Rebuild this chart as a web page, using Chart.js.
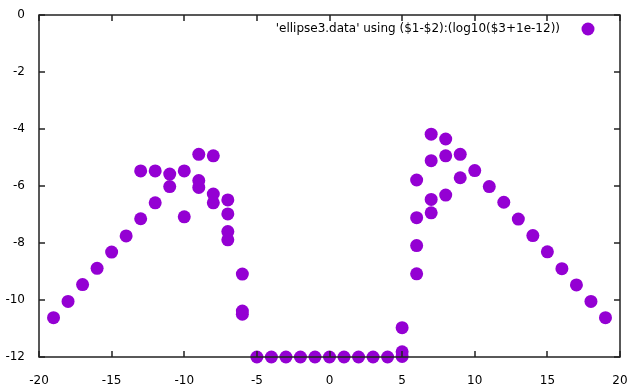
<!DOCTYPE html>
<html>
<head>
<meta charset="utf-8">
<script src="https://cdn.jsdelivr.net/npm/chart.js@4"></script>
<style>
html, body { margin: 0; padding: 0; background: #fff; }
</style>
</head>
<body>
<canvas id="plot" width="640" height="388"></canvas>
<script>
// values
const xValues = [
    -19, -18, -17, -16, -15, -14, -13, -13, -12, -12, -11, -11, -10, -10,
    -9, -9, -9, -8, -8, -8, -7, -7, -7, -7, -6, -6, -6,
    -5, -4, -3, -2, -1, 0, 1, 2, 3, 4,
    5, 5, 5,
    6, 6, 6, 6, 7, 7, 7, 7, 8, 8, 8, 9, 9,
    10, 11, 12, 13, 14, 15, 16, 17, 18, 19
];
const yValues = [
    -10.62, -10.05, -9.46, -8.89, -8.32, -7.75, -7.15, -5.47, -6.59, -5.47, -6.02, -5.58, -7.08, -5.47,
    -4.89, -5.81, -6.05, -4.94, -6.28, -6.59, -6.49, -6.98, -7.60, -7.89, -9.09, -10.39, -10.50,
    -12, -12, -12, -12, -12, -12, -12, -12, -12, -12,
    -10.97, -11.82, -11.98,
    -5.79, -7.11, -8.09, -9.08, -4.18, -5.11, -6.47, -6.94, -4.35, -4.94, -6.32, -4.89, -5.71,
    -5.46, -6.02, -6.57, -7.16, -7.74, -8.31, -8.90, -9.47, -10.05, -10.62
];
const xTicks = [-20, -15, -10, -5, 0, 5, 10, 15, 20];
const yTicks = [0, -2, -4, -6, -8, -10, -12];
const seriesLabel = "'ellipse3.data' using ($1-$2):(log10($3+1e-12))";

const dotColor = '#9400d3';
const fontFamily = '"DejaVu Sans", sans-serif';

// gnuplot style border with inward ticks on all four sides
const framePlugin = {
    id: 'frame',
    afterDatasetsDraw(chart) {
        const { ctx, chartArea: a, scales: { x, y } } = chart;
        const len = 6;
        ctx.save();
        ctx.strokeStyle = '#222';
        ctx.lineWidth = 1.5;
        ctx.beginPath();
        xTicks.forEach(v => {
            const px = Math.round(x.getPixelForValue(v));
            ctx.moveTo(px, a.bottom); ctx.lineTo(px, a.bottom - len);
            ctx.moveTo(px, a.top); ctx.lineTo(px, a.top + len);
        });
        yTicks.forEach(v => {
            const py = Math.round(y.getPixelForValue(v));
            ctx.moveTo(a.left, py); ctx.lineTo(a.left + len, py);
            ctx.moveTo(a.right, py); ctx.lineTo(a.right - len, py);
        });
        ctx.stroke();
        ctx.strokeRect(Math.round(a.left), Math.round(a.top),
            Math.round(a.right - a.left), Math.round(a.bottom - a.top));

        // key in the top right corner
        const ky = a.top + 14;
        ctx.fillStyle = '#000';
        ctx.font = '12px ' + fontFamily;
        ctx.textAlign = 'right';
        ctx.textBaseline = 'middle';
        ctx.fillText(seriesLabel, a.right - 60, ky);
        ctx.fillStyle = dotColor;
        ctx.beginPath();
        ctx.arc(a.right - 32, ky, 6.5, 0, Math.PI * 2);
        ctx.fill();
        ctx.restore();
    }
};

const chart = new Chart(document.getElementById('plot').getContext('2d'), {
    type: 'scatter',
    data: {
        datasets: [{
            label: seriesLabel,
            data: xValues.map((v, i) => ({ x: v, y: yValues[i] })),
            backgroundColor: dotColor,
            borderWidth: 0,
            pointRadius: 6.5,
            pointHoverRadius: 6.5,
            clip: false
        }]
    },
    options: {
        responsive: false,
        animation: false,
        devicePixelRatio: 1,
        events: [],
        layout: { padding: { top: 15, right: 20, left: 0, bottom: 0 } },
        plugins: { legend: { display: false }, tooltip: { enabled: false } },
        scales: {
            x: {
                type: 'linear', min: -20, max: 20,
                afterBuildTicks: s => { s.ticks = xTicks.map(v => ({ value: v })); },
                afterFit: s => { s.height = 31; },
                grid: { display: false },
                border: { display: false },
                ticks: { padding: 9, color: '#000', font: { family: fontFamily, size: 12 }, maxRotation: 0 }
            },
            y: {
                type: 'linear', min: -12, max: 0,
                afterBuildTicks: s => { s.ticks = yTicks.map(v => ({ value: v })); },
                afterFit: s => { s.width = 39; },
                grid: { display: false },
                border: { display: false },
                ticks: { padding: 6, color: '#000', font: { family: fontFamily, size: 12 } }
            }
        }
    },
    plugins: [framePlugin]
});
</script>
</body>
</html>
